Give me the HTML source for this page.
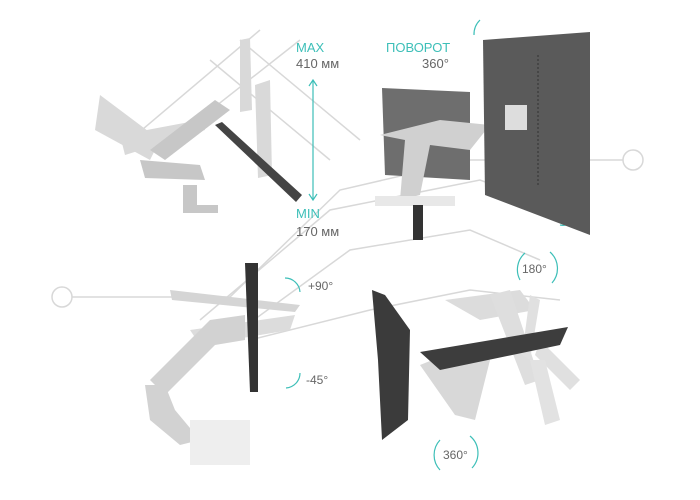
<!DOCTYPE html>
<html><head><meta charset="utf-8"><style>
body{margin:0;background:#fff;width:700px;height:500px;overflow:hidden}
svg{display:block}
text{font-family:"Liberation Sans",sans-serif}
</style></head><body>
<svg width="700" height="500" viewBox="0 0 700 500">
<!-- watermark -->
<g fill="none" stroke="#d8d8d8" stroke-width="1.5">
<circle cx="62" cy="297" r="10"/><line x1="72" y1="297" x2="230" y2="297"/>
<circle cx="633" cy="160" r="10"/><line x1="623" y1="160" x2="470" y2="160"/>
<polyline points="230,297 340,190 470,160"/>
<polyline points="200,320 330,210 480,180 560,210"/>
<polyline points="240,330 350,250 470,230 540,260"/>
<polyline points="250,340 370,310 470,290 560,300"/>
<polyline points="130,140 260,30"/><polyline points="160,150 300,40"/>
<polyline points="210,60 330,160"/><polyline points="240,40 360,140"/>
</g>
<!-- top-left ghost monitors -->
<g fill="#d9d9d9">
<polygon points="100,95 160,140 150,160 95,130"/>
<polygon points="120,135 200,120 205,130 125,155"/>
<polygon points="240,40 250,38 252,110 240,112"/>
<polygon points="255,85 270,80 272,175 258,178"/>
</g>
<g fill="#c7c7c7">
<path d="M150,150 L215,100 L230,110 L165,160 Z"/>
<path d="M140,160 L200,165 L205,180 L145,178 Z"/>
<rect x="183" y="185" width="14" height="25"/>
<rect x="183" y="205" width="35" height="8"/>
</g>
<polygon points="215,125 222,122 302,195 296,202" fill="#444"/>
<!-- arrow -->
<g stroke="#3dbfb8" stroke-width="1.2" fill="none">
<line x1="313" y1="80" x2="313" y2="200"/>
<polyline points="309,86 313,80 317,86"/><polyline points="309,194 313,200 317,194"/>
<path d="M474,35 A20,20 0 0 1 480,20"/>
<path d="M560,225 A15,15 0 0 0 578,210"/>
<path d="M520,280 A22,22 0 0 1 525,253"/>
<path d="M550,252 A22,22 0 0 1 552,283"/>
<path d="M440,470 A22,22 0 0 1 440,440"/>
<path d="M470,436 A22,22 0 0 1 472,468"/>
<path d="M285,278 A15,15 0 0 1 300,292"/>
<path d="M286,388 A15,15 0 0 0 300,373"/>
</g>
<g font-size="13">
<text x="296" y="52" fill="#3dbfb8">MAX</text>
<text x="296" y="68" fill="#666">410 мм</text>
<text x="296" y="218" fill="#3dbfb8">MIN</text>
<text x="296" y="236" fill="#666">170 мм</text>
<text x="386" y="52" fill="#3dbfb8">ПОВОРОТ</text>
<text x="422" y="68" fill="#666">360°</text>
<text x="308" y="290" fill="#666" font-size="12">+90°</text>
<text x="306" y="384" fill="#666" font-size="12">-45°</text>
<text x="522" y="273" fill="#666" font-size="12">180°</text>
<text x="443" y="459" fill="#666" font-size="12">360°</text>
</g>
<!-- top-right -->
<polygon points="382,88 470,92 470,180 385,175" fill="#6e6e6e"/>
<path d="M380,135 L440,120 L490,125 L470,150 L430,145 L420,195 L400,200 L405,140 Z" fill="#d0d0d0"/>
<rect x="375" y="196" width="80" height="10" fill="#e8e8e8"/>
<rect x="413" y="205" width="10" height="35" fill="#333"/>
<polygon points="483,40 590,32 590,235 485,195" fill="#5a5a5a"/>
<line x1="538" y1="55" x2="538" y2="185" stroke="#333" stroke-dasharray="2,2"/>
<rect x="505" y="105" width="22" height="25" fill="#ddd"/>
<!-- bottom-left -->
<polygon points="170,290 300,305 295,312 172,300" fill="#d5d5d5"/>
<polygon points="190,330 295,315 290,330 200,345" fill="#dcdcdc"/>
<path d="M150,380 L210,320 L245,315 L245,340 L215,345 L165,395 Z" fill="#d2d2d2"/>
<path d="M145,385 L165,385 L175,410 L200,440 L180,445 L150,420 Z" fill="#d2d2d2"/>
<rect x="190" y="420" width="60" height="45" fill="#eee"/>
<polygon points="245,263 258,263 258,392 250,392" fill="#333"/>
<!-- bottom-right ghosts -->
<polygon points="445,300 520,290 535,310 480,320" fill="#dcdcdc"/>
<polygon points="490,295 510,290 540,380 525,385" fill="#dedede"/>
<polygon points="530,295 540,300 530,360 522,355" fill="#e0e0e0"/>
<polygon points="540,340 580,380 570,390 535,355" fill="#e0e0e0"/>
<polygon points="530,360 545,360 560,420 545,425" fill="#e2e2e2"/>
<path d="M420,365 L470,345 L490,360 L475,420 L455,415 Z" fill="#d8d8d8"/>
<polygon points="372,290 385,295 410,330 408,420 382,440 378,360" fill="#3b3b3b"/>
<polygon points="420,352 568,327 560,345 440,370" fill="#3d3d3d"/>
</svg>
</body></html>
